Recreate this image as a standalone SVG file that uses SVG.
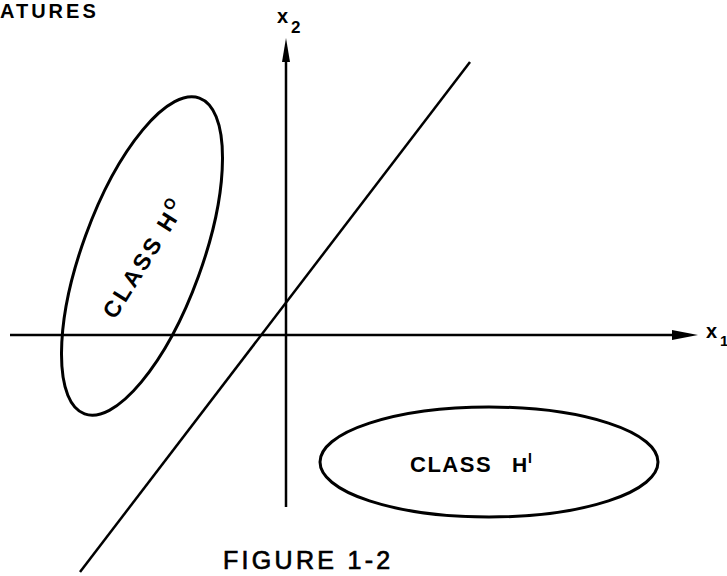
<svg xmlns="http://www.w3.org/2000/svg" width="727" height="576" viewBox="0 0 727 576">
<defs>
<style>
.ln{stroke:#000;stroke-width:2.5;fill:none}
.el{stroke:#000;stroke-width:3;fill:none}
.t{font-family:"Liberation Sans",Arial,sans-serif;font-weight:bold;fill:#000}
</style>
</defs>
<rect width="727" height="576" fill="#fff"/>
<text class="t" x="0" y="18" font-size="20" letter-spacing="3">ATURES</text>
<g id="connectors">
<line class="ln" x1="286" y1="55" x2="286" y2="507"/>
<polygon points="286,38 290,62 282,62" fill="#000"/>
<line class="ln" x1="10" y1="335" x2="680" y2="335"/>
<polygon points="698,335 672,330 672,340" fill="#000"/>
<line class="ln" x1="470" y1="62" x2="80" y2="572"/>
</g>
<g id="axis-x2">
<text class="t" x="277" y="23" font-size="20">x</text>
<text class="t" x="291" y="33" font-size="17">2</text>
</g>
<g id="axis-x1">
<text class="t" x="706" y="338" font-size="20">x</text>
<text class="t" x="720" y="346" font-size="15">1</text>
</g>
<g id="class-h0">
<ellipse class="el" cx="142" cy="256" rx="168" ry="60" transform="rotate(-70 142 256)"/>
<text class="t" transform="translate(146 259) rotate(-58)" font-size="23" letter-spacing="3" text-anchor="middle" dominant-baseline="middle">CLASS H<tspan font-size="15" dy="-8">O</tspan></text>
</g>
<g id="class-h1">
<ellipse class="el" cx="489" cy="462" rx="169" ry="55"/>
<text class="t" x="410" y="472" font-size="22" letter-spacing="1.5">CLASS</text>
<text class="t" x="512" y="472" font-size="21">H</text>
<text class="t" x="528" y="463" font-size="14">I</text>
</g>
<text x="223" y="569" font-family="Liberation Sans,Arial,sans-serif" font-size="25" letter-spacing="3.3" fill="#000" stroke="#000" stroke-width="0.7">FIGURE 1-2</text>
</svg>
